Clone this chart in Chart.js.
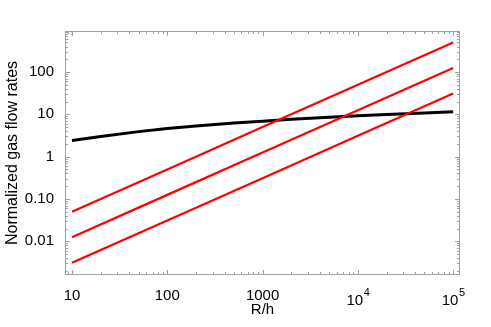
<!DOCTYPE html>
<html>
<head>
<meta charset="utf-8">
<script src="https://cdn.jsdelivr.net/npm/chart.js@4"></script>
<style>
  html, body { margin: 0; padding: 0; background: #fff; }
  #wrap { width: 491px; height: 327px; }
</style>
</head>
<body>
<div id="wrap"><canvas id="chart"></canvas></div>
<script>
// R/h sample points
const xVals = [10, 100, 1000, 10000, 100000];
const redTop = [0.05, 0.5, 5, 50, 500];
const redMid = [0.0125, 0.125, 1.25, 12.5, 125];
const redLow = [0.0031, 0.031, 0.31, 3.1, 31];

const blackX = [10, 20, 50, 100, 200, 500, 1000, 2000, 5000, 10000, 20000, 50000, 100000];
const blackY = [2.4, 3.0, 3.9, 4.6, 5.3, 6.2, 6.9, 7.6, 8.5, 9.2, 9.9, 10.8, 11.5];

const xLabels = { 10: '10', 100: '100', 1000: '1000' };
const xPowLabels = { 10000: '4', 100000: '5' };   // drawn as 10^n
const yLabels = { 0.01: '0.01', 0.1: '0.10', 1: '1', 10: '10', 100: '100' };

const FONT = 'Liberation Sans';

const toPoints = (xs, ys) => xs.map((x, i) => ({ x: x, y: ys[i] }));

// frame, inward ticks and the 10^n labels
const frameTicks = {
    id: 'frameTicks',
    afterDraw(chart) {
        const ctx = chart.ctx;
        const area = chart.chartArea;
        ctx.save();
        ctx.strokeStyle = '#a0a0a0';
        ctx.lineWidth = 1;
        ctx.strokeRect(area.left + 0.5, area.top + 0.5, area.right - area.left - 1, area.bottom - area.top - 1);

        ['x', 'y'].forEach(id => {
            const scale = chart.scales[id];
            const lo = Math.floor(Math.log10(scale.min));
            const hi = Math.ceil(Math.log10(scale.max));
            for (let e = lo; e <= hi; e++) {
                for (let k = 1; k <= 9; k++) {
                    const v = k * Math.pow(10, e);
                    if (v < scale.min || v > scale.max) continue;
                    const p = Math.round(scale.getPixelForValue(v)) + 0.5;
                    const len = k === 1 ? 5 : 3;
                    ctx.beginPath();
                    if (id === 'x') {
                        ctx.moveTo(p, area.bottom); ctx.lineTo(p, area.bottom - len);
                        ctx.moveTo(p, area.top); ctx.lineTo(p, area.top + len);
                    } else {
                        ctx.moveTo(area.left, p); ctx.lineTo(area.left + len, p);
                        ctx.moveTo(area.right, p); ctx.lineTo(area.right - len, p);
                    }
                    ctx.stroke();
                }
            }
        });

        // 10^4, 10^5
        const xs = chart.scales.x;
        ctx.fillStyle = '#000';
        ctx.textBaseline = 'alphabetic';
        ctx.textAlign = 'left';
        Object.keys(xPowLabels).forEach(k => {
            const p = xs.getPixelForValue(Number(k));
            ctx.font = '15px "' + FONT + '"';
            const w1 = ctx.measureText('10').width;
            ctx.font = '11px "' + FONT + '"';
            const w2 = ctx.measureText(xPowLabels[k]).width;
            const x0 = p - (w1 + w2) / 2;
            ctx.font = '15px "' + FONT + '"';
            ctx.fillText('10', x0, area.bottom + 30);
            ctx.font = '11px "' + FONT + '"';
            ctx.fillText(xPowLabels[k], x0 + w1 + 0.5, area.bottom + 21);
        });
        ctx.restore();
    }
};

const lineSet = (data, color, width) => ({
    data: data,
    borderColor: color,
    borderWidth: width,
    pointRadius: 0,
    showLine: true,
    fill: false,
    tension: 0
});

new Chart(document.getElementById('chart'), {
    type: 'scatter',
    data: {
        datasets: [
            lineSet(toPoints(xVals, redTop), '#ff0000', 2.2),
            lineSet(toPoints(xVals, redMid), '#ff0000', 2.2),
            lineSet(toPoints(xVals, redLow), '#ff0000', 2.2),
            lineSet(toPoints(blackX, blackY), '#000000', 3)
        ]
    },
    options: {
        responsive: true,
        maintainAspectRatio: false,
        animation: false,
        layout: { padding: { top: 31, right: 31, left: 0, bottom: 0 } },
        plugins: { legend: { display: false }, tooltip: { enabled: false } },
        scales: {
            x: {
                type: 'logarithmic',
                min: 8.45,
                max: 118000,
                grid: { display: false },
                border: { display: false },
                afterFit(scale) { scale.height = 52; },
                ticks: {
                    autoSkip: false,
                    maxRotation: 0,
                    padding: 4,
                    color: '#000',
                    font: { family: FONT, size: 15 },
                    callback: v => xLabels[v] || ''
                },
                afterBuildTicks(scale) {
                    scale.ticks = xVals.map(v => ({ value: v }));
                },
                title: {
                    display: true,
                    text: 'R/h',
                    color: '#000',
                    font: { family: FONT, size: 15 },
                    padding: { top: 0, bottom: 8 }
                }
            },
            y: {
                type: 'logarithmic',
                min: 0.0016,
                max: 930,
                grid: { display: false },
                border: { display: false },
                afterFit(scale) { scale.width = 65; },
                ticks: {
                    autoSkip: false,
                    padding: 3,
                    color: '#000',
                    font: { family: FONT, size: 15 },
                    callback: v => yLabels[v] || ''
                },
                afterBuildTicks(scale) {
                    scale.ticks = [0.01, 0.1, 1, 10, 100].map(v => ({ value: v }));
                },
                title: {
                    display: true,
                    text: 'Normalized gas flow rates',
                    color: '#000',
                    font: { family: FONT, size: 16 },
                    padding: { top: 3, bottom: 0 }
                }
            }
        }
    },
    plugins: [frameTicks]
});
</script>
</body>
</html>
